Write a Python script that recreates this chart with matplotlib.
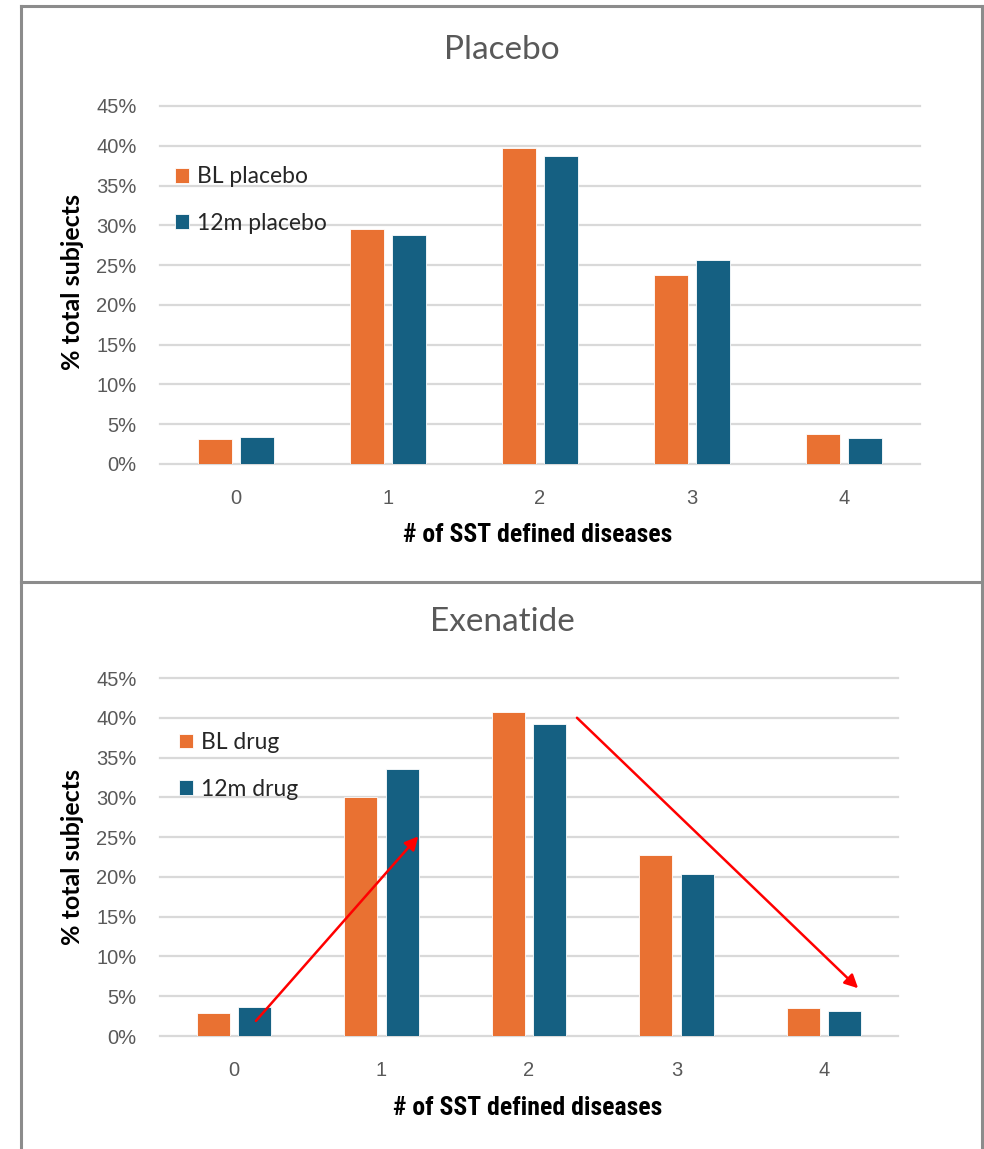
import matplotlib
matplotlib.use("Agg")
import matplotlib.pyplot as plt
from matplotlib.lines import Line2D
import numpy as np

# Number of SST-defined diseases per subject
categories = ["0", "1", "2", "3", "4"]

# % of total subjects, placebo arm
placebo_bl = [3.1, 29.6, 39.7, 23.7, 3.8]
placebo_12m = [3.4, 28.8, 38.7, 25.6, 3.3]

# % of total subjects, exenatide arm
drug_bl = [2.9, 30.1, 40.7, 22.7, 3.5]
drug_12m = [3.6, 33.6, 39.2, 20.4, 3.1]

yticks = [0, 5, 10, 15, 20, 25, 30, 35, 40, 45]

ORANGE = "#E97132"
BLUE = "#156082"
GRID = "#D9D9D9"
GREY_TXT = "#595959"
FRAME = "#8C8C8C"

W, H = 984, 1149
fig = plt.figure(figsize=(W / 100, H / 100), dpi=100)
fig.patch.set_facecolor("white")


def fx(px):
    return px / W


def fy(py):
    return 1 - py / H


def panel(left, right, top0, bottom0, title, title_y, bl, m12, labels, leg_xy):
    ax = fig.add_axes([fx(left), fy(bottom0), fx(right - left), (bottom0 - top0) / H])
    x = np.arange(len(categories))
    w = 0.224
    off = 0.14
    b1 = ax.bar(x - off, bl, w, color=ORANGE, edgecolor="white", linewidth=0.6,
                label=labels[0], zorder=3)
    b2 = ax.bar(x + off, m12, w, color=BLUE, edgecolor="white", linewidth=0.6,
                label=labels[1], zorder=3)
    ax.set_xlim(-0.5, 4.5)
    ax.set_ylim(0, 45)
    ax.set_yticks(yticks)
    ax.set_yticklabels([f"{t}%" for t in yticks])
    ax.set_xticks(x)
    ax.set_xticklabels(categories)
    for s in ax.spines.values():
        s.set_visible(False)
    ax.yaxis.grid(True, color=GRID, linewidth=1.6, zorder=0)
    ax.set_axisbelow(True)
    ax.tick_params(axis="both", length=0, colors=GREY_TXT, labelsize=14.5)
    ax.tick_params(axis="y", pad=17)
    ax.tick_params(axis="x", pad=18)
    for lab in ax.get_xticklabels() + ax.get_yticklabels():
        lab.set_family(["Liberation Sans", "DejaVu Sans"])
    for line in ax.get_ygridlines():
        line.set_clip_on(False)

    fig.text(fx(502), fy(title_y), title, ha="center", va="center",
             fontsize=24, color=GREY_TXT, family=["Lato", "DejaVu Sans"])

    leg = ax.legend(handles=[b1, b2], loc="upper left",
                    bbox_to_anchor=leg_xy, frameon=False,
                    prop={"family": ["Lato", "DejaVu Sans"], "size": 16.5},
                    handlelength=0.62, handleheight=0.62, handletextpad=0.35,
                    labelspacing=1.12, borderaxespad=0, borderpad=0)
    for t in leg.get_texts():
        t.set_color("#262626")
    return ax


ax1 = panel(160, 920, 106, 464, "Placebo", 50, placebo_bl, placebo_12m,
            ["BL placebo", "12m placebo"], (0.0197, 0.832))
ax2 = panel(160, 898, 678, 1036, "Exenatide", 622, drug_bl, drug_12m,
            ["BL drug", "12m drug"], (0.0257, 0.849))

# Axis titles
for xc, yc in [(538, 535), (528, 1108)]:
    fig.text(fx(xc), fy(yc), "# of SST defined diseases", ha="center", va="center",
             fontsize=18.5, fontweight="bold",
             family=["Liberation Sans Narrow", "Roboto Condensed", "Roboto"])
for yc in [282, 857]:
    fig.text(fx(72), fy(yc), "% total subjects", ha="center", va="center",
             rotation=90, fontsize=18, fontweight="bold",
             family=["Lato", "DejaVu Sans"])

# Trend arrows on the exenatide panel
arrow_kw = dict(arrowstyle="-|>", color="red", lw=1.8, mutation_scale=20,
                shrinkA=0, shrinkB=0)
ax2.annotate("", xy=(1.25, 25.1), xytext=(0.15, 1.9), arrowprops=arrow_kw,
             annotation_clip=False, zorder=5)
ax2.annotate("", xy=(4.23, 6.0), xytext=(2.325, 40.0), arrowprops=arrow_kw,
             annotation_clip=False, zorder=5)

# Panel frames
frame_lw = 2.2
for xs, ys in [
    ([21, 982], [6, 6]),
    ([21, 21], [6, 1149]),
    ([982, 982], [6, 1149]),
    ([21, 982], [582, 582]),
]:
    fig.add_artist(Line2D([fx(v) for v in xs], [fy(v) for v in ys],
                          color=FRAME, linewidth=frame_lw))

fig.savefig("out.png", dpi=100, facecolor="white")
